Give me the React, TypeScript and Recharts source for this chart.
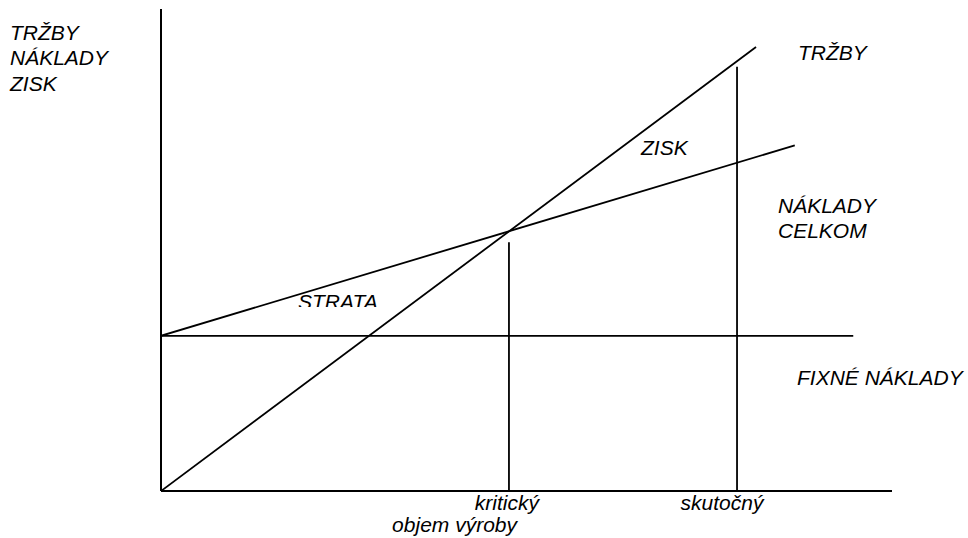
import { LineChart, Line, XAxis, YAxis } from "recharts";

// volume (x) and money (y) in chart units, 0..100 on both axes
const revenueX = [0, 81.4];
const revenueY = [0, 92.1];
const totalCostX = [0, 86.7];
const totalCostY = [32.2, 71.7];
const fixedCostX = [0, 94.7];
const fixedCostY = [32.2, 32.2];
const criticalX = [47.6, 47.6];
const criticalY = [0, 51.6];
const actualX = [78.8, 78.8];
const actualY = [0, 88];

const volumeTicks = [47.6, 78.8];
const volumeTickLabels = ["kritický", "skutočný"];
const volumeTickShift = [-2, -15];

const toPoints = (xs: number[], ys: number[]) => xs.map((x, i) => ({ x, y: ys[i] }));

const series = [
  toPoints(revenueX, revenueY),
  toPoints(totalCostX, totalCostY),
  toPoints(fixedCostX, fixedCostY),
  toPoints(criticalX, criticalY),
  toPoints(actualX, actualY),
];

const FONT = "'Liberation Sans', Arial, sans-serif";
const FS = 21;

const VolumeTick = (props: any) => {
  const { x, y, payload, index } = props;
  const i = volumeTicks.indexOf(payload.value);
  return (
    <g>
      <text
        x={x + (volumeTickShift[i] ?? 0)}
        y={y + 11}
        textAnchor="middle"
        fontFamily={FONT}
        fontStyle="italic"
        fontSize={FS}
        fill="#000"
      >
        {volumeTickLabels[i] ?? index}
      </text>
    </g>
  );
};

const labels: { text: string; x: number; y: number; anchor?: string }[] = [
  { text: "TRŽBY", x: 10, y: 40 },
  { text: "NÁKLADY", x: 10, y: 65 },
  { text: "ZISK", x: 10, y: 91 },
  { text: "TRŽBY", x: 798, y: 60 },
  { text: "ZISK", x: 641, y: 155 },
  { text: "NÁKLADY", x: 778, y: 213 },
  { text: "CELKOM", x: 778, y: 238 },
  { text: "FIXNÉ NÁKLADY", x: 797, y: 385 },
  { text: "objem výroby", x: 517, y: 532, anchor: "end" },
];

export default function App() {
  return (
    <div style={{ position: "relative", width: 968, height: 538, background: "#fff", overflow: "hidden" }}>
      <style>{`body{margin:0}`}</style>
      <LineChart
        width={968}
        height={538}
        margin={{ top: 9, right: 76, bottom: 7, left: 151 }}
      >
        <XAxis
          dataKey="x"
          type="number"
          domain={[0, 100]}
          allowDataOverflow
          ticks={volumeTicks}
          tick={<VolumeTick />}
          tickLine={false}
          height={40}
          axisLine={{ stroke: "#000", strokeWidth: 2 }}
        />
        <YAxis
          type="number"
          domain={[0, 100]}
          allowDataOverflow
          tick={false}
          tickLine={false}
          width={10}
          axisLine={{ stroke: "#000", strokeWidth: 2 }}
        />
        {series.map((d, i) => (
          <Line
            key={i}
            data={d}
            dataKey="y"
            type="linear"
            stroke="#000"
            strokeWidth={1.8}
            dot={false}
            activeDot={false}
            isAnimationActive={false}
          />
        ))}
      </LineChart>
      <svg
        width={968}
        height={538}
        style={{ position: "absolute", left: 0, top: 0, pointerEvents: "none" }}
      >
        <defs>
          <clipPath id="strataClip">
            <rect x={280} y={280} width={120} height={27} />
          </clipPath>
        </defs>
        {labels.map((l, i) => (
          <text
            key={i}
            x={l.x}
            y={l.y}
            textAnchor={l.anchor ?? "start"}
            fontFamily={FONT}
            fontStyle="italic"
            fontSize={FS}
            fill="#000"
          >
            {l.text}
          </text>
        ))}
        <text x={298} y={309} fontFamily={FONT} fontStyle="italic" fontSize={FS} fill="#000" clipPath="url(#strataClip)">
          STRATA
        </text>
      </svg>
    </div>
  );
}
